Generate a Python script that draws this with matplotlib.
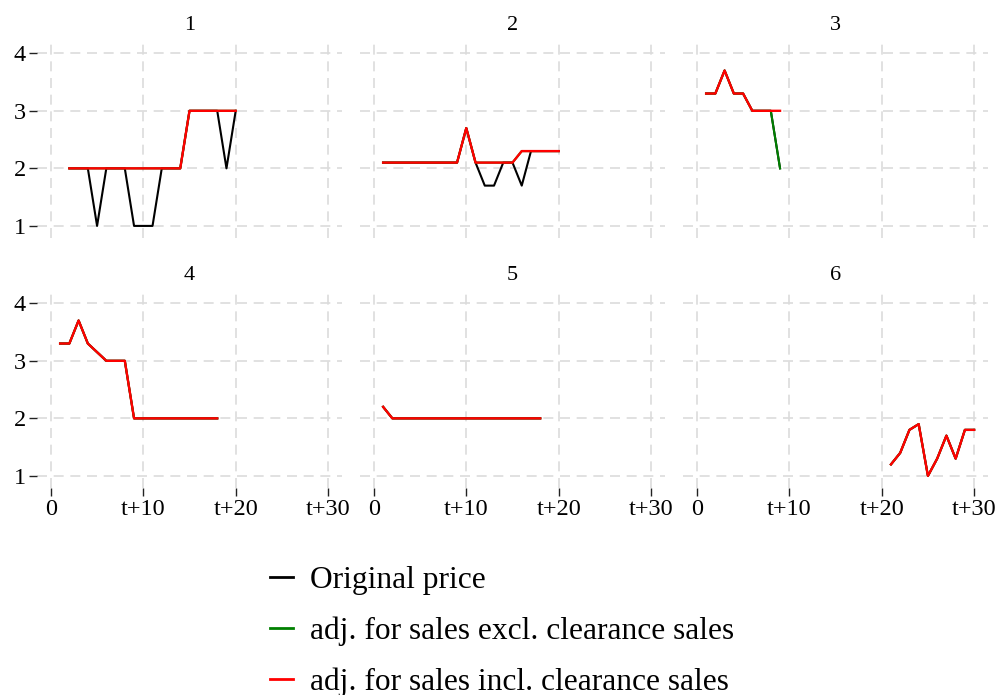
import numpy as np
import matplotlib
matplotlib.use("Agg")
import matplotlib.pyplot as plt

plt.rcParams['font.family'] = ['Liberation Serif', 'DejaVu Serif']

# panel data: days since t, original price and the two adjusted prices
x1 = list(range(2, 21))
orig1 = [2, 2, 2, 1, 2, 2, 2, 1, 1, 1, 2, 2, 2, 3, 3, 3, 3, 2, 3]
excl1 = [2, 2, 2, 2, 2, 2, 2, 2, 2, 2, 2, 2, 2, 3, 3, 3, 3, 3, 3]
incl1 = [2, 2, 2, 2, 2, 2, 2, 2, 2, 2, 2, 2, 2, 3, 3, 3, 3, 3, 3]

x2 = list(range(1, 21))
orig2 = [2.1] * 9 + [2.7, 2.1, 1.7, 1.7, 2.1, 2.1, 1.7, 2.3, 2.3, 2.3, 2.3]
excl2 = [2.1] * 9 + [2.7, 2.1, 2.1, 2.1, 2.1, 2.1, 2.3, 2.3, 2.3, 2.3, 2.3]
incl2 = [2.1] * 9 + [2.7, 2.1, 2.1, 2.1, 2.1, 2.1, 2.3, 2.3, 2.3, 2.3, 2.3]

x3 = list(range(1, 10))
orig3 = [3.3, 3.3, 3.7, 3.3, 3.3, 3.0, 3.0, 3.0, 2.0]
excl3 = [3.3, 3.3, 3.7, 3.3, 3.3, 3.0, 3.0, 3.0, 2.0]
incl3 = [3.3, 3.3, 3.7, 3.3, 3.3, 3.0, 3.0, 3.0, 3.0]

x4 = list(range(1, 19))
orig4 = [3.3, 3.3, 3.7, 3.3, 3.15, 3.0, 3.0, 3.0] + [2.0] * 10
excl4 = [3.3, 3.3, 3.7, 3.3, 3.15, 3.0, 3.0, 3.0] + [2.0] * 10
incl4 = [3.3, 3.3, 3.7, 3.3, 3.15, 3.0, 3.0, 3.0] + [2.0] * 10

x5 = list(range(1, 19))
orig5 = [2.2] + [2.0] * 17
excl5 = [2.2] + [2.0] * 17
incl5 = [2.2] + [2.0] * 17

x6 = list(range(21, 31))
orig6 = [1.2, 1.4, 1.8, 1.9, 1.0, 1.3, 1.7, 1.3, 1.8, 1.8]
excl6 = [1.2, 1.4, 1.8, 1.9, 1.0, 1.3, 1.7, 1.3, 1.8, 1.8]
incl6 = [1.2, 1.4, 1.8, 1.9, 1.0, 1.3, 1.7, 1.3, 1.8, 1.8]

panels = [
    ("1", x1, orig1, excl1, incl1),
    ("2", x2, orig2, excl2, incl2),
    ("3", x3, orig3, excl3, incl3),
    ("4", x4, orig4, excl4, incl4),
    ("5", x5, orig5, excl5, incl5),
    ("6", x6, orig6, excl6, incl6),
]

xticks = [0, 10, 20, 30]
xticklabels = ["0", "t+10", "t+20", "t+30"]
yticks = [1, 2, 3, 4]

W, H = 1003, 695
fig = plt.figure(figsize=(W / 100, H / 100), dpi=100)

lefts = [37, 360, 683]
tops = [40, 290]
aw, ah = 305, 198

for i, (title, x, orig, excl, incl) in enumerate(panels):
    row, col = i // 3, i % 3
    ax = fig.add_axes([lefts[col] / W, 1 - (tops[row] + ah) / H, aw / W, ah / H])
    ax.plot(x, orig, color="black", lw=1.5, label="Original price")
    ax.plot(x, excl, color="#008000", lw=1.5, label="adj. for sales excl. clearance sales")
    ax.plot(x, incl, color="#ff0000", lw=1.7, label="adj. for sales incl. clearance sales")

    ax.set_xlim(-1.5, 31.5)
    ax.set_ylim(0.79, 4.23)
    ax.set_xticks(xticks)
    ax.set_yticks(yticks)
    ax.grid(True, color="#dcdcdc", lw=1.2, linestyle=(0, (6, 4)))
    ax.set_axisbelow(True)
    for s in ax.spines.values():
        s.set_visible(False)
    ax.set_title(title, fontsize=16, pad=7)
    ax.tick_params(length=6, width=1, color="#222222", labelsize=17.5, pad=2)

    if row == 1:
        ax.set_xticklabels(xticklabels)
    else:
        ax.tick_params(axis="x", bottom=False, labelbottom=False)
    if col != 0:
        ax.tick_params(axis="y", left=False, labelleft=False)

handles, labels = ax.get_legend_handles_labels()
leg = fig.legend(handles, labels, loc="center left", bbox_to_anchor=(0.269, 0.0915),
                 frameon=False, fontsize=22.6, handlelength=0.73, handletextpad=0.54,
                 labelspacing=0.68, borderpad=0, borderaxespad=0)
for h in leg.get_lines():
    h.set_linewidth(2)

fig.savefig("out.png", dpi=100)
